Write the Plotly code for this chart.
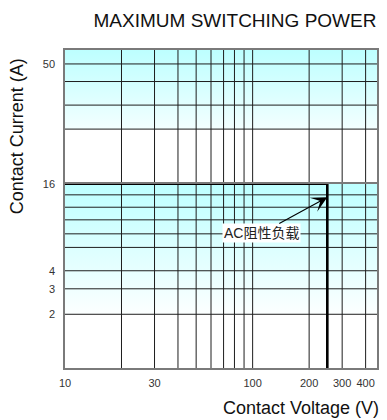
import numpy as np
import plotly.graph_objects as go
from plotly.subplots import make_subplots

# ---- data -------------------------------------------------------------
# Contact voltage axis (V): grid values and labelled ticks
volt_grid = [10, 20, 30, 40, 50, 60, 70, 80, 90, 100, 200, 300, 400]
volt_labels = ["10", "", "30", "", "", "", "", "", "", "100", "200", "300", "400"]
volt_span = [10, 460]

# Contact current axis (A), drawn as two log segments joined at the rated current
amp_low_grid = [2, 3, 4, 5.8, 7.2, 9, 11, 13.4, 16]
amp_low_labels = ["2", "3", "4", "", "", "", "", "", "16"]
amp_low_span = [0.85, 16]
amp_high_grid = [26.9, 33.8, 42.3, 50]
amp_high_labels = ["", "", "", "50"]
amp_high_span = [16, 57.1]

# Maximum switching power boundary (AC resistive load)
rated_voltage = 250
rated_current = 16

# Shaded bands (current ranges)
band_low = [2, 16]
band_high = [26.9, 57.1]

# Arrow label
label_text = "AC阻性负载"
label_pos = (112, 7.3)      # (V, A) of the label
arrow_tip = (250, 12.9)     # (V, A) the arrow points at

# ---- figure -----------------------------------------------------------
W, H = 387, 420
ML, MR, MT, MB = 65, 8, 50, 52
plot_h = H - MT - MB
upper_frac = 133.7 / plot_h

fig = make_subplots(rows=2, cols=1, shared_xaxes=True, vertical_spacing=0,
                    row_heights=[upper_frac, 1 - upper_frac])

CYAN = "#bdffff"
GRID = "#1e1e1e"
BORDER = "#7a7a7a"


def band(lo, hi, top_col, bot_col, row):
    fig.add_trace(go.Scatter(
        x=[volt_span[0], volt_span[1], volt_span[1], volt_span[0], volt_span[0]],
        y=[lo, lo, hi, hi, lo],
        mode="lines", line=dict(width=0), fill="toself",
        fillgradient=dict(type="vertical",
                          colorscale=[[0, bot_col], [1, top_col]]),
        hoverinfo="skip", showlegend=False), row=row, col=1)


def grid(yvals, yspan, row):
    # vertical and horizontal grid lines drawn over the shaded bands
    xs, ys = [], []
    for v in volt_grid[1:]:
        xs += [v, v, None]
        ys += [yspan[0], yspan[1], None]
    for a in yvals:
        xs += [volt_span[0], volt_span[1], None]
        ys += [a, a, None]
    fig.add_trace(go.Scatter(x=xs, y=ys, mode="lines",
                             line=dict(color=GRID, width=1),
                             hoverinfo="skip", showlegend=False), row=row, col=1)


band(band_high[0], band_high[1], CYAN, "#f3ffff", 1)
band(band_low[0], band_low[1], CYAN, "#fcffff", 2)
grid(amp_high_grid, amp_high_span, 1)
grid(amp_low_grid[:-1], amp_low_span, 2)

# Boundary line: 16 A up to 250 V
fig.add_trace(go.Scatter(
    x=[volt_span[0], rated_voltage, rated_voltage],
    y=[rated_current, rated_current, amp_low_span[0]],
    mode="lines", line=dict(color="#000000", width=2.6),
    cliponaxis=False, hoverinfo="skip", showlegend=False), row=2, col=1)

TICKFONT = dict(family="Liberation Sans, Arial, sans-serif", size=11, color="#333333")

xcommon = dict(type="log", range=[np.log10(volt_span[0]), np.log10(volt_span[1])],
               tickvals=volt_grid, ticktext=volt_labels, showgrid=False,
               showline=True, linecolor=BORDER, linewidth=1.5, mirror=True,
               ticks="", zeroline=False, tickfont=TICKFONT)
fig.update_xaxes(**xcommon)
fig.update_xaxes(showticklabels=False, row=1, col=1)
fig.update_xaxes(ticklabelstandoff=4, row=2, col=1)

ycommon = dict(type="log", showgrid=False,
               showline=True, linecolor=BORDER, linewidth=1.5, mirror=True,
               ticks="", zeroline=False, tickfont=TICKFONT, ticklabelstandoff=6)
fig.update_yaxes(**ycommon)
fig.update_yaxes(range=[np.log10(amp_high_span[0]), np.log10(amp_high_span[1])],
                 tickvals=amp_high_grid, ticktext=amp_high_labels, row=1, col=1)
fig.update_yaxes(range=[np.log10(amp_low_span[0]), np.log10(amp_low_span[1]) + 1e-6],
                 tickvals=amp_low_grid, ticktext=amp_low_labels, row=2, col=1)

# Arrow with label
fig.add_annotation(
    x=np.log10(arrow_tip[0]), y=np.log10(arrow_tip[1]),
    ax=np.log10(label_pos[0]), ay=np.log10(label_pos[1]),
    xref="x2", yref="y2", axref="x2", ayref="y2",
    text=label_text, showarrow=True, arrowhead=3, arrowsize=2.4,
    arrowwidth=1.1, arrowcolor="#000000", bgcolor="#ffffff", borderpad=1,
    font=dict(family="Liberation Sans, Noto Sans CJK SC, sans-serif",
              size=14, color="#222222"))

AXFONT = dict(family="Liberation Sans, Arial, sans-serif", size=18, color="#111111")
fig.add_annotation(text="Contact Voltage (V)", xref="paper", yref="paper",
                   x=(383 - ML) / (W - ML - MR), y=-(408 - (H - MB)) / plot_h,
                   xanchor="right", yanchor="middle", showarrow=False, font=AXFONT)
fig.add_annotation(text="Contact Current (A)", xref="paper", yref="paper",
                   x=(17 - ML) / (W - ML - MR), y=((H - MB) - 136) / plot_h,
                   xanchor="center", yanchor="middle", textangle=-90,
                   showarrow=False, font=AXFONT)

fig.update_layout(
    width=W, height=H, margin=dict(l=ML, r=MR, t=MT, b=MB),
    paper_bgcolor="#ffffff", plot_bgcolor="#ffffff",
    title=dict(text="MAXIMUM SWITCHING POWER", x=235 / W, xref="container",
               y=1 - 20 / H, yref="container", xanchor="center", yanchor="middle",
               font=dict(family="Liberation Sans, Arial, sans-serif", size=19,
                         color="#111111")),
    showlegend=False,
)

fig.write_html("out.html")
